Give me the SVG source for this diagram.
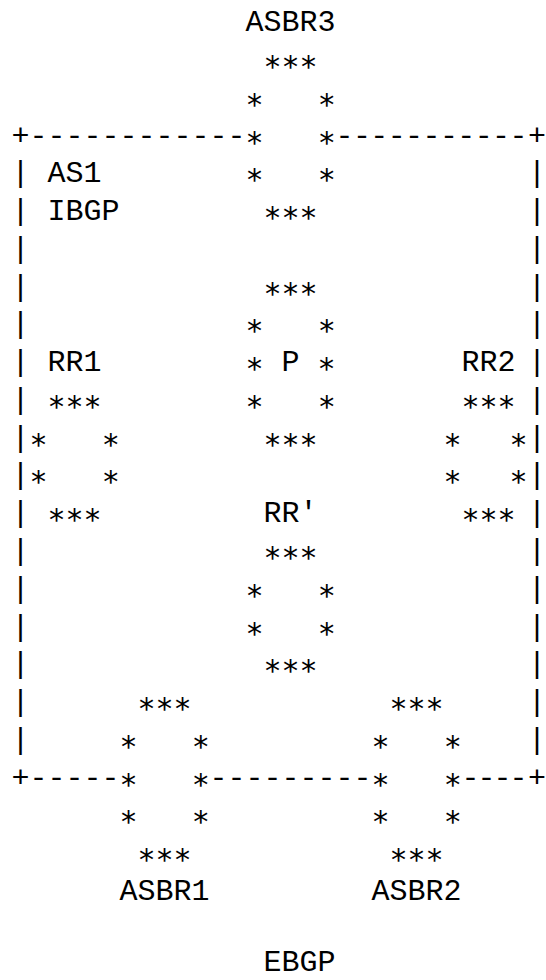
<svg xmlns="http://www.w3.org/2000/svg" width="546" height="980" viewBox="0 0 546 980">
<style>
text{font-family:"Liberation Mono","DejaVu Sans Mono",monospace;font-size:30px;fill:#000;white-space:pre}
text.s{font-family:"DejaVu Sans Mono","Liberation Mono",monospace}
</style>
<rect width="546" height="980" fill="#fff"/>
<g id="connectors">
<text x="11.5" y="144.6">+------------</text>
<text x="335.5" y="144.6" textLength="192" lengthAdjust="spacing">-----------</text><text x="528" y="144.6">+</text>
<text x="11.5" y="182.3">|</text><text x="528" y="182.3">|</text>
<text x="11.5" y="220.1">|</text><text x="528" y="220.1">|</text>
<text x="11.5" y="257.9">|</text><text x="528" y="257.9">|</text>
<text x="11.5" y="295.6">|</text><text x="528" y="295.6">|</text>
<text x="11.5" y="333.4">|</text><text x="528" y="333.4">|</text>
<text x="11.5" y="371.1">|</text><text x="528" y="371.1">|</text>
<text x="11.5" y="408.9">|</text><text x="528" y="408.9">|</text>
<text x="11.5" y="446.7">|</text><text x="528" y="446.7">|</text>
<text x="11.5" y="484.4">|</text><text x="528" y="484.4">|</text>
<text x="11.5" y="522.2">|</text><text x="528" y="522.2">|</text>
<text x="11.5" y="559.9">|</text><text x="528" y="559.9">|</text>
<text x="11.5" y="597.7">|</text><text x="528" y="597.7">|</text>
<text x="11.5" y="635.5">|</text><text x="528" y="635.5">|</text>
<text x="11.5" y="673.2">|</text><text x="528" y="673.2">|</text>
<text x="11.5" y="711.0">|</text><text x="528" y="711.0">|</text>
<text x="11.5" y="748.7">|</text><text x="528" y="748.7">|</text>
<text x="11.5" y="786.5">+-----</text>
<text x="209.5" y="786.5">---------</text>
<text x="461.5" y="786.5" textLength="66" lengthAdjust="spacing">----</text><text x="528" y="786.5">+</text>
</g>
<g id="ASBR3">
<text x="245.5" y="31.3">ASBR3</text>
<text class="s" x="263.5" y="77.1">***</text>
<text class="s" x="245.5" y="114.8">*   *</text>
<text class="s" x="245.5" y="152.6">*   *</text>
<text class="s" x="245.5" y="190.3">*   *</text>
<text class="s" x="263.5" y="228.1">***</text>
</g>
<g id="AS1"><text x="47.5" y="182.3">AS1</text></g>
<g id="IBGP"><text x="47.5" y="220.1">IBGP</text></g>
<g id="P">
<text class="s" x="263.5" y="303.6">***</text>
<text class="s" x="245.5" y="341.4">*   *</text>
<text class="s" x="245.5" y="379.1">*</text>
<text x="281.5" y="371.1">P</text>
<text class="s" x="317.5" y="379.1">*</text>
<text class="s" x="245.5" y="416.9">*   *</text>
<text class="s" x="263.5" y="454.7">***</text>
</g>
<g id="RR1">
<text x="47.5" y="371.1">RR1</text>
<text class="s" x="47.5" y="416.9">***</text>
<text class="s" x="29.5" y="454.7">*   *</text>
<text class="s" x="29.5" y="492.4">*   *</text>
<text class="s" x="47.5" y="530.2">***</text>
</g>
<g id="RR2">
<text x="461.5" y="371.1">RR2</text>
<text class="s" x="461.5" y="416.9">***</text>
<text class="s" x="443.5" y="454.7" textLength="84" lengthAdjust="spacing">*   *</text>
<text class="s" x="443.5" y="492.4" textLength="84" lengthAdjust="spacing">*   *</text>
<text class="s" x="461.5" y="530.2">***</text>
</g>
<g id="RRprime">
<text x="263.5" y="522.2">RR'</text>
<text class="s" x="263.5" y="567.9">***</text>
<text class="s" x="245.5" y="605.7">*   *</text>
<text class="s" x="245.5" y="643.5">*   *</text>
<text class="s" x="263.5" y="681.2">***</text>
</g>
<g id="ASBR1">
<text class="s" x="137.5" y="719.0">***</text>
<text class="s" x="119.5" y="756.7">*   *</text>
<text class="s" x="119.5" y="794.5">*   *</text>
<text class="s" x="119.5" y="832.3">*   *</text>
<text class="s" x="137.5" y="870.0">***</text>
<text x="119.5" y="899.8">ASBR1</text>
</g>
<g id="ASBR2">
<text class="s" x="389.5" y="719.0">***</text>
<text class="s" x="371.5" y="756.7">*   *</text>
<text class="s" x="371.5" y="794.5">*   *</text>
<text class="s" x="371.5" y="832.3">*   *</text>
<text class="s" x="389.5" y="870.0">***</text>
<text x="371.5" y="899.8">ASBR2</text>
</g>
<g id="EBGP"><text x="263.5" y="970.5">EBGP</text></g>
</svg>
